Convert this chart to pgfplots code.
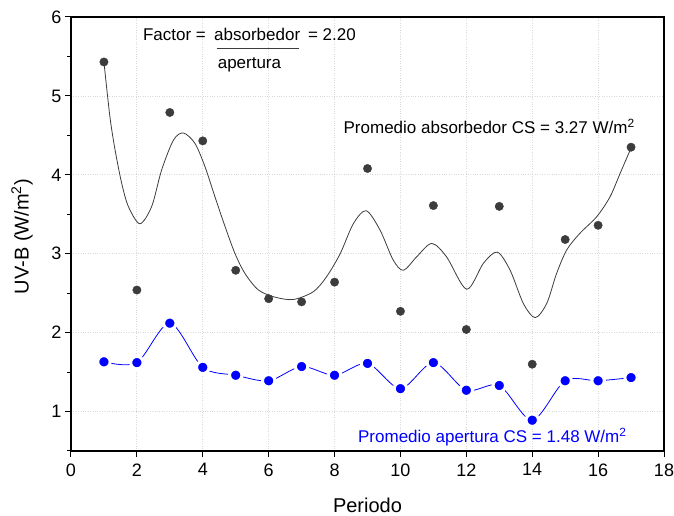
\documentclass[border=0pt]{standalone}
\usepackage{fontspec}
\setmainfont{Liberation Sans}
\usepackage{pgfplots}
\pgfplotsset{compat=1.18}
\definecolor{ptgray}{HTML}{3C3C3C}
\begin{document}
\begin{tikzpicture}
\begin{axis}[name=ax, scale only axis, width=593bp, height=434bp,
 xmin=0, xmax=18, ymin=0.5, ymax=6,
 xtick={0,2,...,18}, ytick={1,2,...,6},
 minor ytick={0.5,1.5,...,5.5},
 tick align=outside, xtick pos=bottom, ytick pos=left,
 major tick length=6bp, minor tick length=3.5bp,
 every tick/.style={black, line width=1bp},
 axis line style={line width=1.4bp},
 grid=major, major grid style={gray!30, dotted, line width=0.8bp},
 tick label style={font=\fontsize{18bp}{20bp}\selectfont},
 xticklabel style={yshift=-3bp},
 /pgf/number format/assume math mode=true,
 xlabel={Periodo}, ylabel={UV-B (W/m\textsuperscript{2})},
 xlabel style={font=\fontsize{20bp}{24bp}\selectfont, at={(axis description cs:0.5,0)}, anchor=base, yshift=-62bp},
 ylabel style={font=\fontsize{20bp}{24bp}\selectfont, at={(axis description cs:-0.0826,0.494)}, anchor=center},
 clip=false,
]
\addplot[smooth, draw=ptgray, line width=0.8bp, no marks] coordinates {
(1,5.43) (1.18,4.74) (1.34,4.31) (1.54,3.89) (1.74,3.60) (2.09,3.38) (2.45,3.60)
(2.75,4.06) (3.11,4.44) (3.41,4.53) (3.76,4.40) (4.07,4.10) (4.37,3.72) (4.68,3.34)
(4.98,3.00) (5.28,2.75) (5.69,2.54) (6.19,2.45) (6.75,2.42) (7.36,2.52) (7.76,2.71)
(8.17,3.00) (8.57,3.38) (8.96,3.545) (9.38,3.30) (9.78,2.92) (10.09,2.79) (10.49,2.96)
(10.95,3.13) (11.40,2.96) (12.01,2.55) (12.52,2.88) (12.94,3.02) (13.33,2.79)
(13.73,2.37) (14.09,2.19) (14.44,2.37) (14.74,2.75) (15.05,3.05) (15.45,3.26)
(15.96,3.47) (16.36,3.72) (16.67,4.02) (17.0,4.34)
};
\addplot[only marks, mark=*, mark size=4.2bp, color=ptgray] coordinates {
(1,5.43) (2,2.54) (3,4.79) (4,4.43) (5,2.79) (6,2.43) (7,2.39) (8,2.64) (9,4.08)
(10,2.27) (11,3.61) (12,2.04) (13,3.60) (14,1.60) (15,3.18) (16,3.36) (17,4.35)
};
\addplot[smooth, blue, line width=0.8bp, mark=*, mark size=6.2bp,
 mark options={fill=blue, draw=white, line width=3bp}] coordinates {
(1,1.63) (2,1.62) (3,2.12) (4,1.56) (5,1.46) (6,1.39) (7,1.57) (8,1.46) (9,1.61)
(10,1.29) (11,1.62) (12,1.27) (13,1.33) (14,0.89) (15,1.39) (16,1.39) (17,1.43)
};
\node[anchor=base west, inner sep=0, font=\fontsize{17bp}{20bp}\selectfont] at (axis cs:2.18,5.70) {Factor =};
\node[anchor=base west, inner sep=0, font=\fontsize{17bp}{20bp}\selectfont] at (axis cs:4.34,5.70) {absorbedor};
\draw[ptgray, line width=1bp] (axis cs:4.42,5.60) -- (axis cs:6.92,5.60);
\node[anchor=base west, inner sep=0, font=\fontsize{17bp}{20bp}\selectfont] at (axis cs:4.45,5.35) {apertura};
\node[anchor=base west, inner sep=0, font=\fontsize{17bp}{20bp}\selectfont] at (axis cs:7.19,5.70) {= 2.20};
\node[anchor=base west, inner sep=0, font=\fontsize{17bp}{20bp}\selectfont] at (axis cs:8.27,4.52) {Promedio absorbedor CS = 3.27 W/m\textsuperscript{2}};
\node[anchor=base west, inner sep=0, blue, font=\fontsize{17bp}{20bp}\selectfont] at (axis cs:8.71,0.61) {Promedio apertura CS = 1.48 W/m\textsuperscript{2}};
\end{axis}
\pgfresetboundingbox
\useasboundingbox ([xshift=-71bp,yshift=-65bp]ax.south west) rectangle ([xshift=10bp,yshift=17bp]ax.north east);
\end{tikzpicture}
\end{document}
